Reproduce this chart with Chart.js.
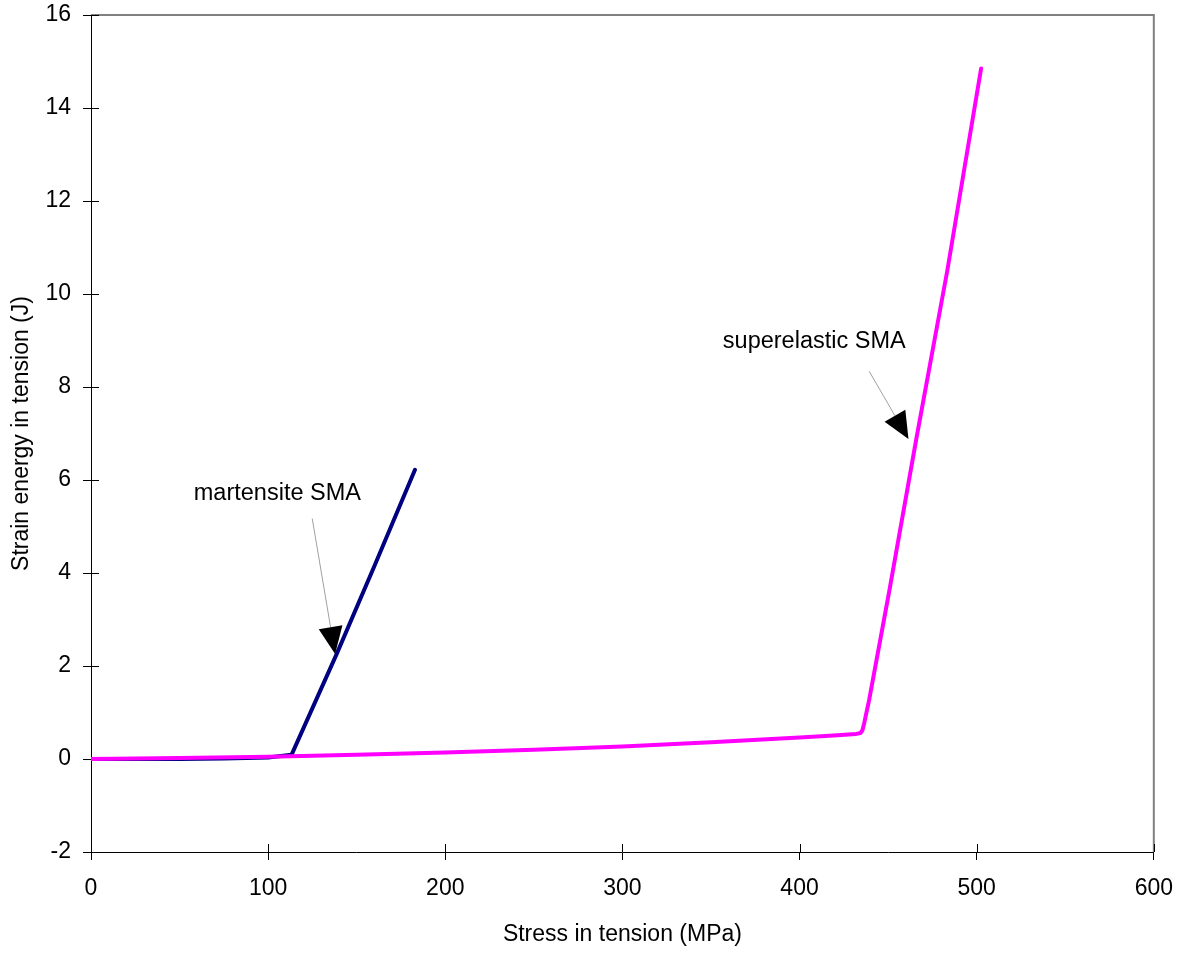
<!DOCTYPE html>
<html>
<head>
<meta charset="utf-8">
<script src="https://cdn.jsdelivr.net/npm/chart.js@4.4.1/dist/chart.umd.min.js"></script>
<style>
  html, body { margin: 0; padding: 0; background: #fff; }
  #chart { display: block; }
</style>
</head>
<body>
<canvas id="chart" width="1188" height="953"></canvas>
<script>
// Strain energy vs stress for two SMA types
const superStress = [0, 50, 100, 150, 200, 250, 300, 350, 400, 417, 432, 434.5, 435.5, 436.5, 439.3, 450.6, 466.0, 483.4, 502.5];
const superEnergy = [0, 0.02, 0.05, 0.09, 0.14, 0.2, 0.27, 0.36, 0.46, 0.5, 0.54, 0.56, 0.62, 0.77, 1.27, 3.6, 6.9, 10.5, 14.85];

const martStress = [0, 50, 75, 100, 113.2, 138.6, 160, 182.9];
const martEnergy = [0, 0, 0.01, 0.03, 0.09, 2.25, 4.15, 6.22];

const xTicks = [0, 100, 200, 300, 400, 500, 600];
const yTicks = [-2, 0, 2, 4, 6, 8, 10, 12, 14, 16];

// callout labels: text position, arrow start and arrow tip (data units)
const callouts = [
    { text: 'martensite SMA', at: [105.2, 5.70], from: [124.9, 5.17], to: [137.8, 2.26] },
    { text: 'superelastic SMA', at: [408.3, 8.97], from: [439.3, 8.34], to: [461.5, 6.88] }
];

const FONT = '"Liberation Sans", Arial, sans-serif';
Chart.defaults.font.family = FONT;
Chart.defaults.font.size = 23;
Chart.defaults.color = '#000';

function toXY(arrX, arrY) {
    return arrX.map((v, i) => ({ x: v, y: arrY[i] }));
}

const framePlugin = {
    id: 'frame',
    beforeDatasetsDraw(chart) {
        const { ctx, chartArea: a, scales } = chart;
        ctx.save();
        // grey border top / right
        ctx.strokeStyle = '#808080';
        ctx.lineWidth = 2;
        ctx.beginPath();
        ctx.moveTo(a.left, a.top);
        ctx.lineTo(a.right, a.top);
        ctx.lineTo(a.right, a.bottom);
        ctx.stroke();
        // inner half of the cross ticks
        ctx.strokeStyle = '#000';
        ctx.lineWidth = 1;
        ctx.beginPath();
        xTicks.forEach(v => {
            const px = Math.round(scales.x.getPixelForValue(v)) + 0.5;
            ctx.moveTo(px, a.bottom);
            ctx.lineTo(px, a.bottom - 8);
        });
        yTicks.forEach(v => {
            const py = Math.round(scales.y.getPixelForValue(v)) + 0.5;
            ctx.moveTo(a.left, py);
            ctx.lineTo(a.left + 8, py);
        });
        ctx.stroke();
        ctx.restore();
    },
    afterDatasetsDraw(chart) {
        const { ctx, scales } = chart;
        ctx.save();
        callouts.forEach(c => {
            const tx = scales.x.getPixelForValue(c.at[0]);
            const ty = scales.y.getPixelForValue(c.at[1]);
            ctx.fillStyle = '#000';
            ctx.font = '23.5px ' + FONT;
            ctx.textAlign = 'center';
            ctx.textBaseline = 'middle';
            ctx.fillText(c.text, tx, ty);

            const x1 = scales.x.getPixelForValue(c.from[0]);
            const y1 = scales.y.getPixelForValue(c.from[1]);
            const x2 = scales.x.getPixelForValue(c.to[0]);
            const y2 = scales.y.getPixelForValue(c.to[1]);
            const len = Math.hypot(x2 - x1, y2 - y1);
            const ux = (x2 - x1) / len, uy = (y2 - y1) / len;
            const head = 27, half = 12;
            const bx = x2 - ux * head, by = y2 - uy * head;

            ctx.strokeStyle = '#a0a0a0';
            ctx.lineWidth = 1;
            ctx.beginPath();
            ctx.moveTo(x1, y1);
            ctx.lineTo(bx, by);
            ctx.stroke();

            ctx.beginPath();
            ctx.moveTo(x2, y2);
            ctx.lineTo(bx - uy * half, by + ux * half);
            ctx.lineTo(bx + uy * half, by - ux * half);
            ctx.closePath();
            ctx.fill();
        });
        ctx.restore();
    }
};

new Chart(document.getElementById('chart'), {
    type: 'scatter',
    data: {
        datasets: [
            {
                label: 'superelastic SMA',
                data: toXY(superStress, superEnergy),
                showLine: true,
                borderColor: '#ff00ff',
                backgroundColor: '#ff00ff',
                borderWidth: 4,
                pointRadius: 0,
                tension: 0,
                borderJoinStyle: 'round',
                borderCapStyle: 'round'
            },
            {
                label: 'martensite SMA',
                data: toXY(martStress, martEnergy),
                showLine: true,
                borderColor: '#000080',
                backgroundColor: '#000080',
                borderWidth: 4,
                pointRadius: 0,
                tension: 0,
                borderJoinStyle: 'round',
                borderCapStyle: 'round'
            }
        ]
    },
    options: {
        responsive: false,
        animation: false,
        layout: { padding: { top: 15, right: 33, left: 0, bottom: 0 } },
        plugins: {
            legend: { display: false },
            tooltip: { enabled: false }
        },
        scales: {
            x: {
                type: 'linear',
                min: 0,
                max: 600,
                afterFit(scale) { scale.height = 101; },
                afterBuildTicks(scale) { scale.ticks = xTicks.map(v => ({ value: v })); },
                ticks: { padding: 15, color: '#000' },
                grid: { drawOnChartArea: false, drawTicks: true, tickLength: 8, color: '#000', lineWidth: 1 },
                border: { display: true, color: '#000', width: 1 },
                title: { display: true, text: 'Stress in tension (MPa)', color: '#000', padding: { top: 4, bottom: 5 } }
            },
            y: {
                type: 'linear',
                min: -2,
                max: 16,
                afterFit(scale) {
                    scale.width = 91;
                    scale.paddingTop = 0;
                    scale.paddingBottom = 0;
                },
                afterBuildTicks(scale) { scale.ticks = yTicks.map(v => ({ value: v })); },
                ticks: { padding: 12, color: '#000' },
                grid: { drawOnChartArea: false, drawTicks: true, tickLength: 8, color: '#000', lineWidth: 1 },
                border: { display: true, color: '#000', width: 1 },
                title: { display: true, text: 'Strain energy in tension (J)', color: '#000', padding: { top: 8, bottom: 4 } }
            }
        }
    },
    plugins: [framePlugin]
});
</script>
</body>
</html>
